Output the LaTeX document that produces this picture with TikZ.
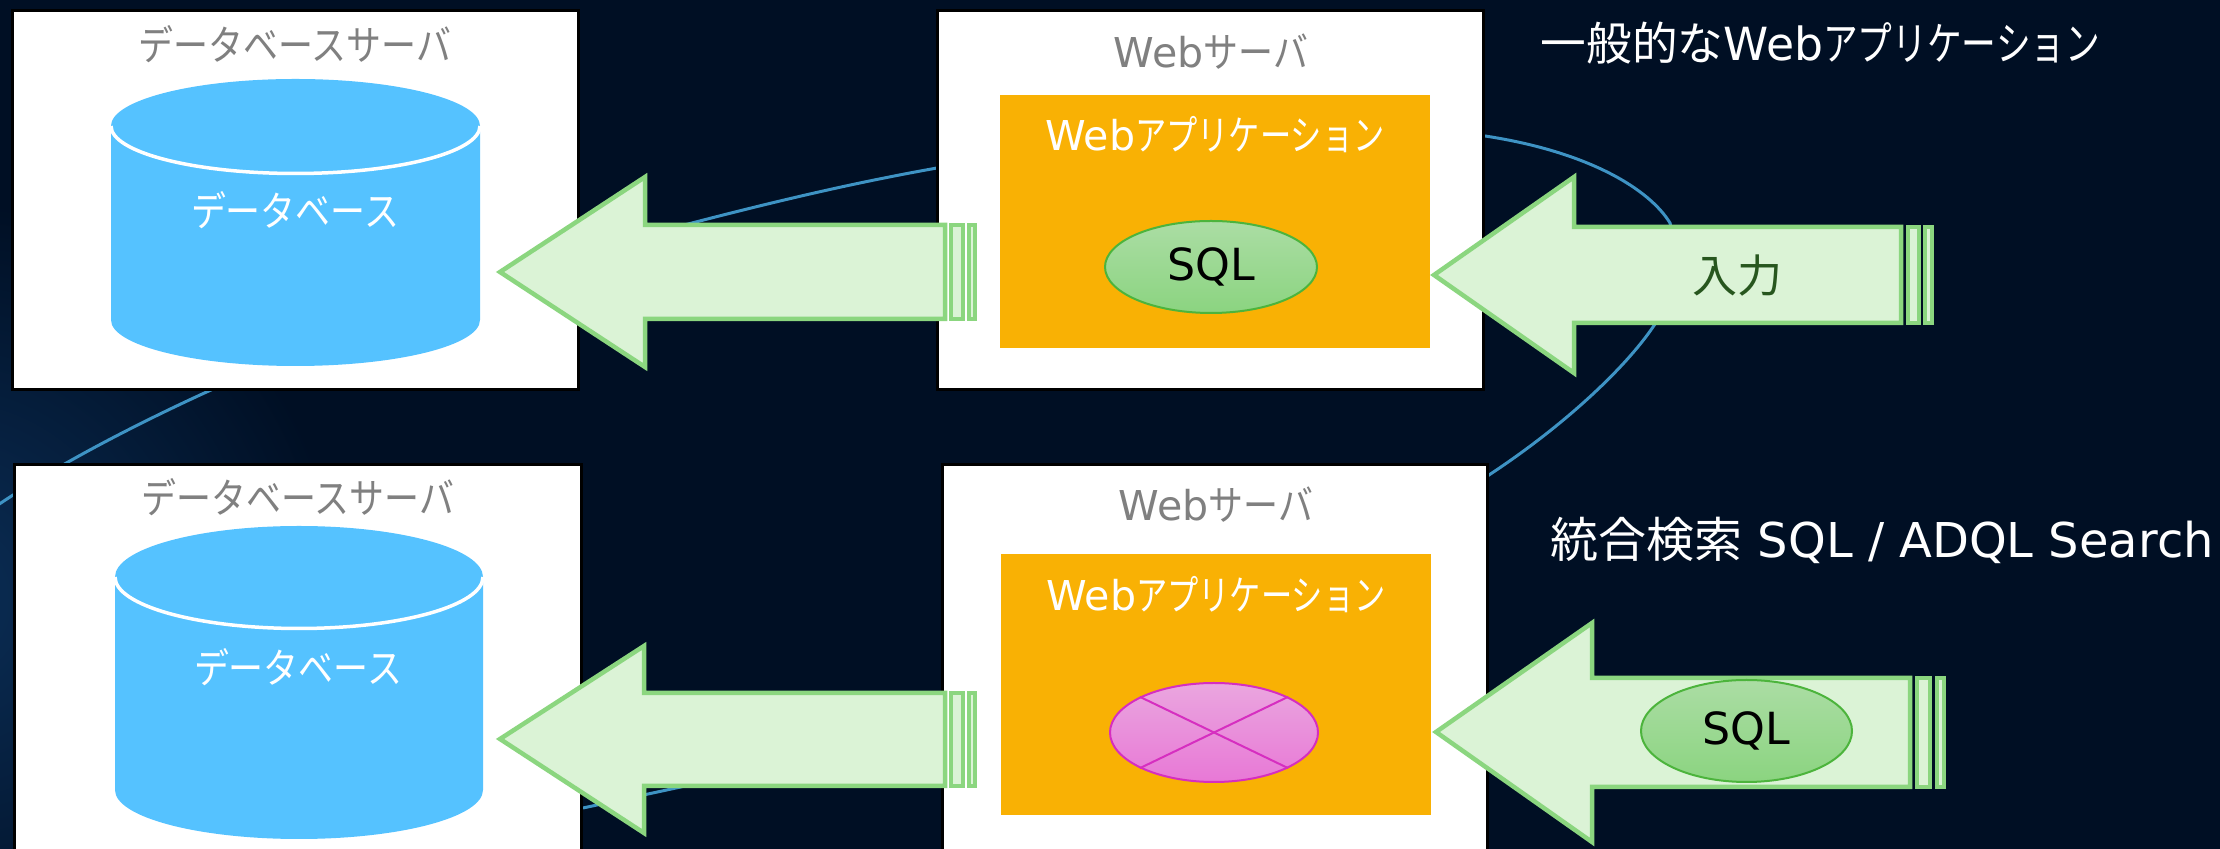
\documentclass[tikz,border=0pt]{standalone}
\usepackage{fontspec}
\usepackage{amsmath}
\usetikzlibrary{shapes.geometric}
\setmainfont{DejaVu Sans}
\newfontfamily\kanafont[FakeStretch=0.76]{Noto Sans CJK JP}
\newfontfamily\widekana[FakeStretch=0.85]{Noto Sans CJK JP}
\newfontfamily\kanjifont{Noto Sans CJK JP}
\definecolor{bgdark}{HTML}{000F24}
\definecolor{bgblue}{HTML}{0B2E56}
\definecolor{ringblue}{HTML}{3E93C4}
\definecolor{dbblue}{HTML}{55C2FF}
\definecolor{apporange}{HTML}{F9B104}
\definecolor{arrowfill}{HTML}{DBF3D6}
\definecolor{arrowline}{HTML}{8BD67F}
\definecolor{sqltop}{HTML}{ABDDA4}
\definecolor{sqlbottom}{HTML}{8BD480}
\definecolor{sqledge}{HTML}{4CB43C}
\definecolor{badtop}{HTML}{EAA6DF}
\definecolor{badbottom}{HTML}{E878D6}
\definecolor{badedge}{HTML}{D62EC0}
\definecolor{inputgreen}{HTML}{27561E}
\tikzset{
  server/.style={draw=black, fill=white, line width=0.3mm, inner sep=0},
  appbox/.style={fill=apporange, inner sep=0},
  stripearrow/.style={draw=arrowline, fill=arrowfill, line width=0.45mm, line join=miter},
  sqlmark/.style={ellipse, draw=sqledge, top color=sqltop, bottom color=sqlbottom, line width=0.2mm, inner sep=0, text=black, font=\fontsize{12.6}{15}\selectfont},
  badmark/.style={ellipse, draw=badedge, top color=badtop, bottom color=badbottom, line width=0.2mm, inner sep=0},
  crossline/.style={draw=badedge, line width=0.2mm},
  ring/.style={draw=ringblue, line width=0.3mm},
  servertitle/.style={text=black!50, inner sep=0, font=\fontsize{11.7}{14}\selectfont},
  whitetitle/.style={text=white, inner sep=0, font=\fontsize{11.7}{14}\selectfont},
  heading/.style={text=white, inner sep=0, anchor=west, font=\fontsize{13}{15}\selectfont}
}
\begin{document}
\begin{tikzpicture}[x=0.1mm, y=-0.1mm]
\useasboundingbox (0,0) rectangle (2220,849);
\fill[bgdark] (0,0) rectangle (2220,849);
\begin{scope}
\clip (0,0) rectangle (2220,849);
\shade[inner color=bgblue, outer color=bgdark] (-60,600) circle (40mm);
\end{scope}

% background line
\draw[ring] (-5,507) .. controls (100,435) and (350,310) .. (692,223) .. controls (800,195) and (870,180) .. (937,168) .. controls (1150,120) and (1350,115) .. (1485,136) .. controls (1590,152) and (1650,190) .. (1670,223) .. controls (1680,260) and (1672,300) .. (1653,327) .. controls (1625,368) and (1565,425) .. (1489,475) .. controls (1300,600) and (950,730) .. (676,788) -- (583,808);

% upper row
\node[server, minimum width=56.6cm/10, minimum height=37.9cm/10] (db1) at (295,200.5) {};
\node[server, minimum width=54.6cm/10, minimum height=37.9cm/10] (web1) at (1210.75,200.5) {};
\node[servertitle] (dbtitle1) at (295,44) {\widekana データベースサーバ};
\node[servertitle] (webtitle1) at (1211,52) {Web{\widekana サーバ}};
\fill[dbblue] (111,126) -- (111,320) arc[start angle=180, end angle=360, x radius=18.45cm/10, y radius=4.6cm/10] -- (480,126) -- cycle;
\fill[dbblue] (295.5,126) ellipse[x radius=18.45cm/10, y radius=4.7cm/10];
\draw[white, line width=0.35mm] (111,126) arc[start angle=180, end angle=360, x radius=18.45cm/10, y radius=4.75cm/10];
\node[whitetitle] (dblabel1) at (295,210) {\widekana データベース};
\node[appbox, minimum width=43cm/10, minimum height=25.3cm/10] (app1) at (1215,221.5) {};
\node[whitetitle] (applabel1) at (1215,135) {Web{\kanafont アプリケーション}};
\node[sqlmark, minimum width=21.2cm/10, minimum height=9.2cm/10] (sql1) at (1211,267) {\raisebox{-0.4mm}{SQL}};

\draw[stripearrow] (500,272) -- (645,177) -- (645,225) -- (945,225) -- (945,319) -- (645,319) -- (645,367) -- cycle;
\draw[stripearrow] (951,225) rectangle (963,319);
\draw[stripearrow] (969,225) rectangle (975,319);

\draw[stripearrow] (1434,275) -- (1574,177) -- (1574,227) -- (1901,227) -- (1901,323) -- (1574,323) -- (1574,373) -- cycle;
\draw[stripearrow] (1908,227) rectangle (1919,323);
\draw[stripearrow] (1925,227) rectangle (1932,323);
\node[text=inputgreen, inner sep=0, font=\fontsize{12.8}{15}\selectfont] (input1) at (1737,276) {\kanjifont 入力};

\node[heading] (heading1) at (1540,43) {{\kanjifont 一般的な}Web{\kanafont アプリケーション}};

% lower row
\node[server, minimum width=56.7cm/10, minimum height=39.15cm/10] (db2) at (297.5,660.25) {};
\node[server, minimum width=54.5cm/10, minimum height=39.15cm/10] (web2) at (1215,660.25) {};
\node[servertitle] (dbtitle2) at (298,497) {\widekana データベースサーバ};
\node[servertitle] (webtitle2) at (1216,505) {Web{\widekana サーバ}};
\fill[dbblue] (115,577) -- (115,790) arc[start angle=180, end angle=360, x radius=18.4cm/10, y radius=4.9cm/10] -- (483,577) -- cycle;
\fill[dbblue] (299,577) ellipse[x radius=18.4cm/10, y radius=5.1cm/10];
\draw[white, line width=0.35mm] (115,577) arc[start angle=180, end angle=360, x radius=18.4cm/10, y radius=5.15cm/10];
\node[whitetitle] (dblabel2) at (298,667) {\widekana データベース};
\node[appbox, minimum width=43cm/10, minimum height=26.1cm/10] (app2) at (1216,684.5) {};
\node[whitetitle] (applabel2) at (1216,595) {Web{\kanafont アプリケーション}};
\node[badmark, minimum width=20.8cm/10, minimum height=9.9cm/10] (bad2) at (1214,732.5) {};
\draw[crossline] (bad2.north west) -- (bad2.south east);
\draw[crossline] (bad2.south west) -- (bad2.north east);

\draw[stripearrow] (500,739) -- (644,646) -- (644,693) -- (945,693) -- (945,786) -- (644,786) -- (644,833) -- cycle;
\draw[stripearrow] (951,693) rectangle (963,786);
\draw[stripearrow] (969,693) rectangle (975,786);

\draw[stripearrow] (1436,732) -- (1592,623) -- (1592,678) -- (1910,678) -- (1910,787) -- (1592,787) -- (1592,842) -- cycle;
\draw[stripearrow] (1917,678) rectangle (1930,787);
\draw[stripearrow] (1937,678) rectangle (1944,787);
\node[sqlmark, minimum width=21.1cm/10, minimum height=10.2cm/10] (sql2) at (1746.5,731) {\raisebox{-0.4mm}{SQL}};

\node[heading, font=\fontsize{13.65}{16}\selectfont] (heading2) at (1550,540) {{\kanjifont 統合検索} SQL / ADQL Search};
\end{tikzpicture}
\end{document}
